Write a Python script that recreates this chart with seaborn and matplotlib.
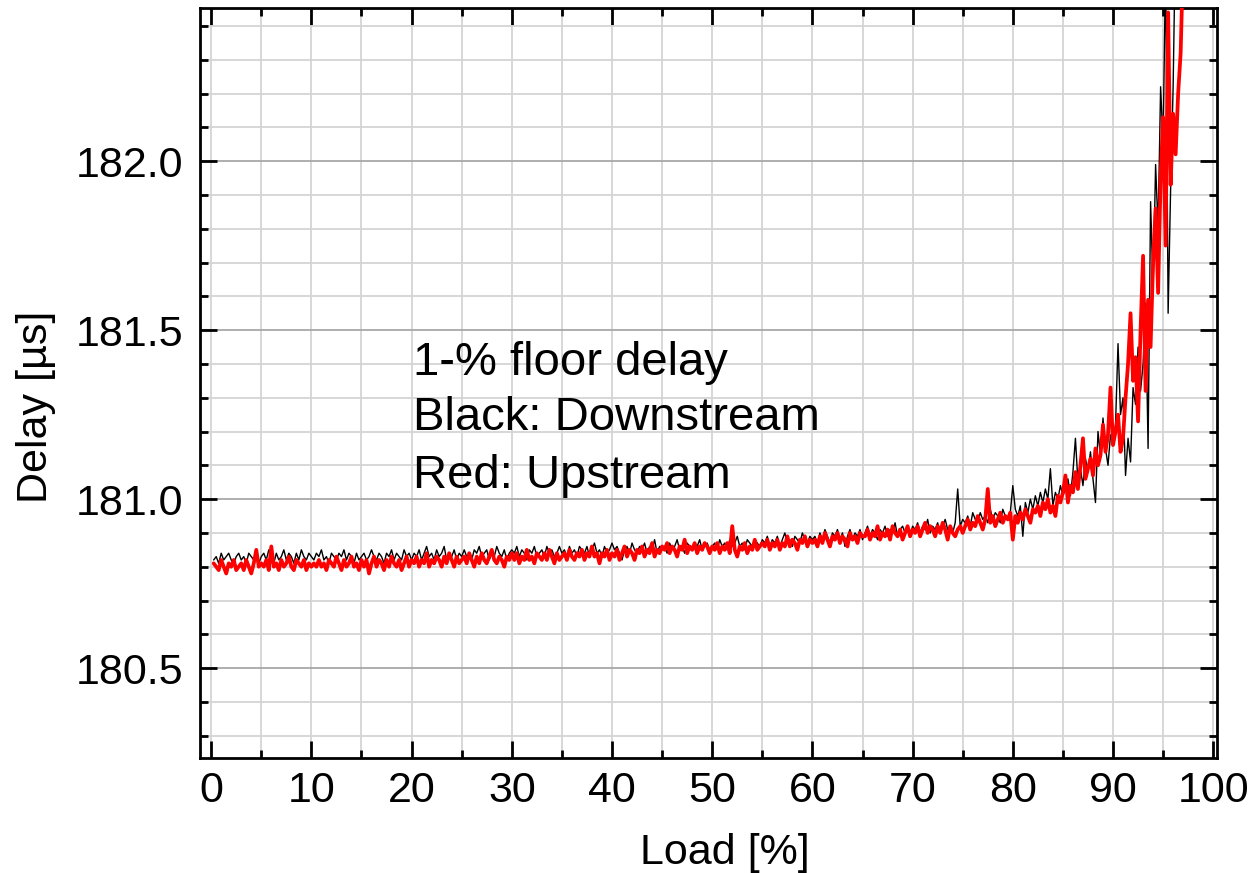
import numpy as np
import pandas as pd
import matplotlib
matplotlib.use("Agg")
import matplotlib.pyplot as plt
from matplotlib.ticker import MultipleLocator, FormatStrFormatter
import seaborn as sns

# ---------------- data ----------------
# Delay [µs] vs Load [%], samples every 0.25 % load starting at 0.25 %
downstream = [
    180.82, 180.83, 180.81, 180.84, 180.82, 180.83, 180.84, 180.82, 180.81, 180.83, 180.84, 180.82, 180.83, 180.81, 180.84, 180.83, 180.82, 180.84, 180.81, 180.83,
    180.84, 180.82, 180.85, 180.83, 180.81, 180.84, 180.82, 180.83, 180.85, 180.82, 180.84, 180.83, 180.81, 180.84, 180.82, 180.85, 180.83, 180.82, 180.84, 180.83,
    180.82, 180.84, 180.83, 180.85, 180.82, 180.83, 180.81, 180.84, 180.83, 180.82, 180.84, 180.83, 180.85, 180.82, 180.84, 180.83, 180.81, 180.84, 180.82, 180.83,
    180.84, 180.82, 180.83, 180.85, 180.83, 180.82, 180.84, 180.83, 180.81, 180.84, 180.83, 180.85, 180.82, 180.84, 180.83, 180.82, 180.85, 180.83, 180.84, 180.82,
    180.84, 180.83, 180.85, 180.82, 180.84, 180.86, 180.83, 180.84, 180.82, 180.85, 180.83, 180.84, 180.86, 180.82, 180.84, 180.83, 180.85, 180.82, 180.84, 180.83,
    180.85, 180.83, 180.84, 180.82, 180.85, 180.84, 180.86, 180.83, 180.84, 180.85, 180.82, 180.84, 180.83, 180.86, 180.84, 180.83, 180.85, 180.82, 180.84, 180.85,
    180.84, 180.86, 180.83, 180.85, 180.84, 180.82, 180.85, 180.84, 180.86, 180.83, 180.84, 180.85, 180.83, 180.86, 180.84, 180.85, 180.83, 180.84, 180.86, 180.84,
    180.85, 180.83, 180.86, 180.84, 180.85, 180.83, 180.86, 180.85, 180.84, 180.86, 180.83, 180.85, 180.87, 180.84, 180.85, 180.83, 180.86, 180.84, 180.85, 180.87,
    180.85, 180.86, 180.84, 180.82, 180.85, 180.86, 180.84, 180.87, 180.85, 180.84, 180.86, 180.85, 180.87, 180.84, 180.86, 180.85, 180.88, 180.84, 180.86, 180.85,
    180.86, 180.84, 180.87, 180.85, 180.86, 180.88, 180.85, 180.86, 180.84, 180.87, 180.86, 180.85, 180.87, 180.86, 180.88, 180.85, 180.86, 180.87, 180.85, 180.86,
    180.87, 180.85, 180.88, 180.86, 180.87, 180.85, 180.88, 180.86, 180.87, 180.89, 180.86, 180.87, 180.85, 180.88, 180.87, 180.86, 180.88, 180.87, 180.86, 180.88,
    180.87, 180.89, 180.86, 180.88, 180.87, 180.89, 180.86, 180.88, 180.90, 180.87, 180.88, 180.86, 180.89, 180.88, 180.87, 180.90, 180.88, 180.87, 180.89, 180.88,
    180.89, 180.87, 180.90, 180.88, 180.91, 180.89, 180.87, 180.90, 180.89, 180.91, 180.88, 180.90, 180.86, 180.89, 180.91, 180.88, 180.90, 180.89, 180.91, 180.88,
    180.90, 180.92, 180.89, 180.91, 180.90, 180.88, 180.91, 180.90, 180.92, 180.89, 180.91, 180.90, 180.93, 180.89, 180.91, 180.92, 180.90, 180.91, 180.89, 180.92,
    180.91, 180.93, 180.90, 180.92, 180.91, 180.94, 180.90, 180.92, 180.91, 180.93, 180.90, 180.92, 180.94, 180.91, 180.92, 180.90, 180.93, 181.03, 180.92, 180.94,
    180.93, 180.95, 180.92, 180.96, 180.94, 180.93, 180.96, 180.94, 180.95, 180.93, 180.97, 180.94, 180.96, 180.95, 180.93, 180.97, 180.95, 180.94, 180.96, 181.04,
    180.97, 180.95, 180.98, 180.89, 180.99, 180.96, 181.00, 180.97, 181.01, 180.98, 181.02, 180.99, 181.03, 181.00, 181.09, 180.98, 181.02, 181.00, 181.04, 181.01,
    181.03, 181.06, 181.01, 181.08, 181.18, 181.05, 181.09, 181.04, 181.12, 181.08, 181.14, 181.06, 180.99, 181.20, 181.13, 181.24, 181.15, 181.10, 181.19, 181.16,
    181.22, 181.46, 181.25, 181.30, 181.07, 181.18, 181.11, 181.33, 181.28, 181.45, 181.32, 181.40, 181.58, 181.15, 181.88, 181.62, 181.99, 181.80, 182.22, 182.05,
    182.60, 181.55, 181.92, 182.22, 182.70, 182.90, 182.95, 183.00,
]

upstream = [
    180.81, 180.80, 180.79, 180.82, 180.80, 180.78, 180.81, 180.80, 180.82, 180.79, 180.80, 180.81, 180.79, 180.82, 180.80, 180.78, 180.81, 180.85, 180.80, 180.81,
    180.80, 180.82, 180.79, 180.86, 180.80, 180.81, 180.79, 180.82, 180.80, 180.81, 180.83, 180.80, 180.79, 180.82, 180.81, 180.80, 180.82, 180.79, 180.81, 180.80,
    180.81, 180.80, 180.82, 180.80, 180.81, 180.79, 180.82, 180.81, 180.80, 180.83, 180.81, 180.79, 180.82, 180.80, 180.81, 180.83, 180.80, 180.81, 180.79, 180.82,
    180.80, 180.82, 180.78, 180.81, 180.83, 180.80, 180.82, 180.81, 180.79, 180.82, 180.80, 180.83, 180.81, 180.80, 180.82, 180.79, 180.81, 180.83, 180.80, 180.82,
    180.81, 180.83, 180.80, 180.82, 180.81, 180.84, 180.80, 180.82, 180.81, 180.83, 180.82, 180.80, 180.83, 180.81, 180.84, 180.82, 180.80, 180.83, 180.81, 180.82,
    180.83, 180.81, 180.84, 180.82, 180.80, 180.83, 180.81, 180.84, 180.82, 180.81, 180.83, 180.85, 180.82, 180.81, 180.83, 180.82, 180.80, 180.83, 180.82, 180.84,
    180.82, 180.84, 180.81, 180.83, 180.82, 180.85, 180.82, 180.83, 180.81, 180.84, 180.83, 180.82, 180.84, 180.82, 180.85, 180.83, 180.81, 180.84, 180.82, 180.83,
    180.84, 180.82, 180.85, 180.83, 180.82, 180.84, 180.83, 180.85, 180.82, 180.84, 180.83, 180.86, 180.83, 180.84, 180.81, 180.84, 180.83, 180.85, 180.82, 180.84,
    180.83, 180.85, 180.82, 180.84, 180.86, 180.83, 180.85, 180.84, 180.82, 180.85, 180.84, 180.86, 180.83, 180.85, 180.84, 180.87, 180.83, 180.85, 180.84, 180.86,
    180.85, 180.87, 180.84, 180.86, 180.85, 180.83, 180.86, 180.85, 180.88, 180.84, 180.86, 180.85, 180.87, 180.84, 180.86, 180.85, 180.87, 180.86, 180.84, 180.86,
    180.85, 180.87, 180.84, 180.86, 180.85, 180.87, 180.84, 180.92, 180.85, 180.83, 180.86, 180.85, 180.87, 180.84, 180.86, 180.85, 180.88, 180.85, 180.86, 180.87,
    180.86, 180.88, 180.85, 180.87, 180.86, 180.88, 180.85, 180.87, 180.86, 180.89, 180.86, 180.88, 180.87, 180.85, 180.88, 180.87, 180.89, 180.86, 180.88, 180.87,
    180.88, 180.86, 180.89, 180.87, 180.90, 180.88, 180.86, 180.89, 180.88, 180.90, 180.87, 180.89, 180.88, 180.86, 180.90, 180.88, 180.89, 180.87, 180.90, 180.89,
    180.89, 180.91, 180.88, 180.90, 180.89, 180.92, 180.88, 180.90, 180.89, 180.91, 180.88, 180.92, 180.90, 180.89, 180.91, 180.88, 180.90, 180.92, 180.89, 180.91,
    180.90, 180.92, 180.89, 180.91, 180.93, 180.90, 180.92, 180.91, 180.89, 180.92, 180.90, 180.93, 180.91, 180.88, 180.92, 180.90, 180.89, 180.91, 180.92, 180.90,
    180.92, 180.94, 180.91, 180.93, 180.92, 180.95, 180.93, 180.91, 180.94, 181.03, 180.93, 180.95, 180.92, 180.94, 180.96, 180.93, 180.95, 180.94, 180.96, 180.88,
    180.95, 180.93, 180.96, 180.94, 180.97, 180.95, 180.93, 180.97, 180.96, 180.98, 180.95, 180.99, 180.97, 181.00, 180.96, 180.98, 180.95, 181.01, 180.99, 181.02,
    181.07, 180.99, 181.04, 181.02, 181.08, 181.03, 181.10, 181.18, 181.06, 181.09, 181.12, 181.07, 181.15, 181.10, 181.13, 181.22, 181.14, 181.19, 181.33, 181.16,
    181.20, 181.25, 181.14, 181.18, 181.30, 181.40, 181.55, 181.35, 181.42, 181.23, 181.50, 181.72, 181.32, 181.59, 181.45, 181.70, 181.86, 181.61, 181.95, 182.13,
    181.75, 182.44, 181.93, 182.14, 182.02, 182.20, 182.32, 182.60,
]

load_down = 0.25 * np.arange(1, len(downstream) + 1)
load_up = 0.25 * np.arange(1, len(upstream) + 1)

x_ticks = [0, 10, 20, 30, 40, 50, 60, 70, 80, 90, 100]
annotation_lines = ["1-% floor delay", "Black: Downstream", "Red: Upstream"]

# ---------------- style ----------------
sns.set_theme(style="white")
plt.rcParams["font.family"] = ["Liberation Sans", "DejaVu Sans"]
plt.rcParams["text.color"] = "black"
plt.rcParams["axes.labelcolor"] = "black"
plt.rcParams["xtick.color"] = "black"
plt.rcParams["ytick.color"] = "black"

fig = plt.figure(figsize=(12.51, 8.73), dpi=100)
ax = fig.add_axes([0.160, 0.1317, 0.813, 0.8591])

df_down = pd.DataFrame({"load": load_down, "delay": downstream})
df_up = pd.DataFrame({"load": load_up, "delay": upstream})
sns.lineplot(data=df_down, x="load", y="delay", color="black", lw=1.0,
             estimator=None, sort=False, ax=ax, zorder=3)
sns.lineplot(data=df_up, x="load", y="delay", color="#ff0000", lw=2.7,
             estimator=None, sort=False, ax=ax, zorder=4)

ax.set_xlim(-1.1, 100.4)
ax.set_ylim(180.234, 182.453)
ax.set_xticks(x_ticks)
ax.xaxis.set_minor_locator(MultipleLocator(5))
ax.yaxis.set_major_locator(MultipleLocator(0.5))
ax.yaxis.set_minor_locator(MultipleLocator(0.1))
ax.yaxis.set_major_formatter(FormatStrFormatter("%.1f"))

ax.set_axisbelow(True)
ax.grid(which="minor", color="#d4d4d4", lw=1.3)
ax.xaxis.grid(which="major", color="#d4d4d4", lw=1.3)
ax.yaxis.grid(which="major", color="#a8a8a8", lw=1.3)

for s in ax.spines.values():
    s.set_linewidth(2.0)
    s.set_color("black")

ax.tick_params(which="both", direction="in", top=True, right=True,
               bottom=True, left=True, width=2.0, color="black")
ax.tick_params(which="major", length=12)
ax.tick_params(which="minor", length=6)
ax.tick_params(axis="x", which="major", labelsize=31, pad=9)
ax.tick_params(axis="y", which="major", labelsize=31, pad=12)

ax.set_xlabel("Load [%]", fontsize=31)
ax.set_ylabel("Delay [µs]", fontsize=31)
ax.xaxis.set_label_coords(0.516, -0.100)
ax.yaxis.set_label_coords(-0.142, 0.468)

for txt, yv in zip(annotation_lines, [181.367, 181.204, 181.033]):
    ax.text(20.1, yv, txt, fontsize=34, va="baseline", ha="left", color="black")

fig.savefig("out.png", dpi=100)
